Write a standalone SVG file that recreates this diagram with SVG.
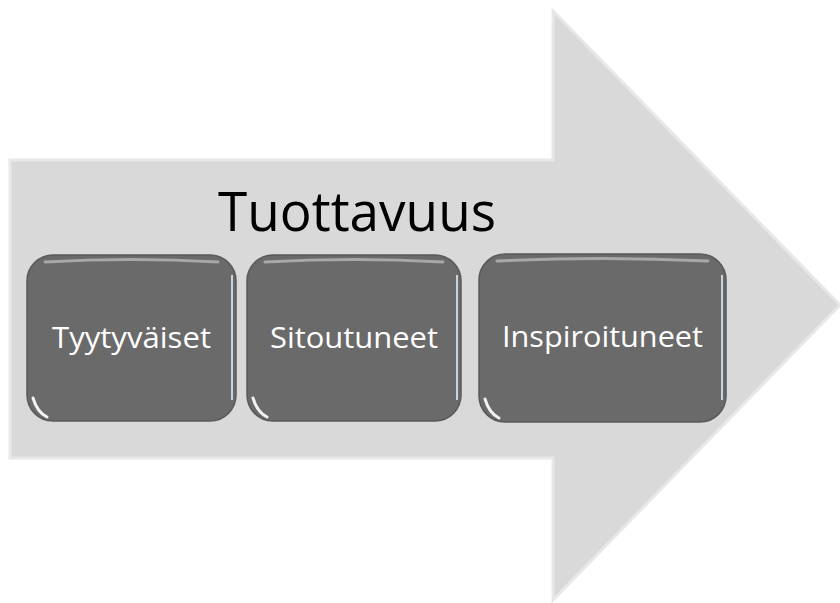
<svg xmlns="http://www.w3.org/2000/svg" width="840" height="603" viewBox="0 0 840 603">
<style>
.box{fill:#6a6a6a;stroke:#5a5a5a;stroke-width:1.5}
.lbl{font-family:"Open Sans","Liberation Sans",sans-serif;font-size:29px;fill:#ffffff;text-anchor:middle}
.title{font-family:"Open Sans","Liberation Sans",sans-serif;font-size:55px;fill:#000000;text-anchor:middle}
.hl{fill:none;stroke:#b8b8b8;stroke-width:3;stroke-linecap:round;opacity:0.8}
.shine{fill:none;stroke:#f2f2f2;stroke-width:3;stroke-linecap:round}
.redge{fill:none;stroke:#c9d3dc;stroke-width:2}
</style>
<rect width="840" height="603" fill="#ffffff"/>
<g id="arrow">
<polygon points="10,160 553,160 553,11 840,305 553,600 553,458 10,458" fill="#d9d9d9" stroke="#e8e8e8" stroke-width="3" stroke-linejoin="miter"/>
<text class="title" x="357" y="231" textLength="278" lengthAdjust="spacingAndGlyphs">Tuottavuus</text>
</g>
<g id="node1">
<rect class="box" x="27" y="255" width="209" height="166" rx="26"/>
<path class="hl" d="M45,262 Q131,257 218,262"/>
<path class="redge" d="M232,275 L232,400"/>
<path class="shine" d="M33,398 Q37,412 47,417"/>
<text class="lbl" x="131.5" y="348" textLength="159" lengthAdjust="spacingAndGlyphs">Tyytyväiset</text>
</g>
<g id="node2">
<rect class="box" x="247" y="255" width="214" height="166" rx="26"/>
<path class="hl" d="M265,262 Q354,257 443,262"/>
<path class="redge" d="M457,275 L457,400"/>
<path class="shine" d="M253,398 Q257,412 267,417"/>
<text class="lbl" x="354" y="348" textLength="168" lengthAdjust="spacingAndGlyphs">Sitoutuneet</text>
</g>
<g id="node3">
<rect class="box" x="479" y="254" width="247" height="168" rx="26"/>
<path class="hl" d="M497,261 Q602,256 708,261"/>
<path class="redge" d="M722,275 L722,400"/>
<path class="shine" d="M485,399 Q489,413 499,418"/>
<text class="lbl" x="602.5" y="347" textLength="201" lengthAdjust="spacingAndGlyphs">Inspiroituneet</text>
</g>
<g id="connectors"></g>
</svg>
